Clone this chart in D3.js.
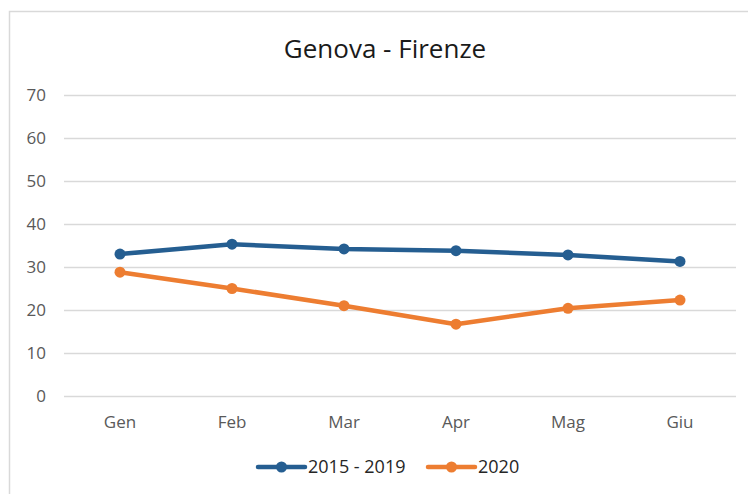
<!DOCTYPE html>
<html>
<head>
<meta charset="utf-8">
<script src="https://cdn.jsdelivr.net/npm/d3@7"></script>
<style>
body { margin: 0; background: #fff; }
svg { font-family: "Open Sans", "Liberation Sans", Arial, sans-serif; }
.grid line { stroke: #d9d9d9; stroke-width: 1.3; }
.grid .domain { display: none; }
.tick text { fill: #595959; font-size: 17px; font-family: "Open Sans", "Liberation Sans", Arial, sans-serif; }
</style>
</head>
<body>
<svg class="chart" width="748" height="494"></svg>
<script>
var months = ["Gen", "Feb", "Mar", "Apr", "Mag", "Giu"];
var avg2015_2019 = [33.0, 35.3, 34.2, 33.8, 32.8, 31.3];
var year2020 = [28.8, 25.0, 21.0, 16.7, 20.4, 22.3];
var yTicks = [0, 10, 20, 30, 40, 50, 60, 70];

var series = [
    {name: "2015 - 2019", values: avg2015_2019, color: "#255e91"},
    {name: "2020", values: year2020, color: "#ed7d31"}
];

var margin = {top: 95, right: 12, bottom: 98, left: 64};
var width = 748 - margin.left - margin.right,   // 672
    height = 494 - margin.top - margin.bottom;  // 301

var svg = d3.select(".chart");

// outer frame
svg.append("rect")
    .attr("x", 9.5).attr("y", 11.5)
    .attr("width", 760).attr("height", 500)
    .attr("fill", "none")
    .attr("stroke", "#d9d9d9")
    .attr("stroke-width", 1.5);

svg.append("text")
    .attr("x", 385).attr("y", 58)
    .attr("text-anchor", "middle")
    .attr("font-size", "26px")
    .attr("fill", "#1a1a1a")
    .text("Genova - Firenze");

var g = svg.append("g")
    .attr("transform", "translate(" + margin.left + "," + margin.top + ")");

var x = d3.scaleBand()
    .domain(months)
    .range([0, width]);

var y = d3.scaleLinear()
    .domain([0, 70])
    .range([height, 0]);

// y gridlines + labels
g.append("g")
    .attr("class", "grid")
    .call(d3.axisLeft(y).tickValues(yTicks).tickSize(-width).tickPadding(18))
    .call(function(s){ s.selectAll(".tick line").attr("x1", 0); });

// x labels
g.append("g")
    .attr("class", "grid")
    .attr("transform", "translate(0," + height + ")")
    .call(d3.axisBottom(x).tickSize(0).tickPadding(20))
    .call(function(s){ s.select(".domain").remove(); });

var line = d3.line()
    .x(function(d, i){ return x(months[i]) + x.bandwidth() / 2; })
    .y(function(d){ return y(d); });

series.forEach(function(s){
    g.append("path")
        .datum(s.values)
        .attr("fill", "none")
        .attr("stroke", s.color)
        .attr("stroke-width", 4.5)
        .attr("stroke-linejoin", "round")
        .attr("d", line);
    g.selectAll(null)
        .data(s.values)
        .enter().append("circle")
        .attr("cx", function(d, i){ return x(months[i]) + x.bandwidth() / 2; })
        .attr("cy", function(d){ return y(d); })
        .attr("r", 5.5)
        .attr("fill", s.color);
});

// legend
var legendX = [258, 428];
var legend = svg.selectAll(".legend")
    .data(series)
    .enter().append("g")
    .attr("class", "legend")
    .attr("transform", function(d, i){ return "translate(" + legendX[i] + ",467)"; });

legend.append("line")
    .attr("x1", 0).attr("x2", 47)
    .attr("stroke", function(d){ return d.color; })
    .attr("stroke-width", 4.5)
    .attr("stroke-linecap", "round");
legend.append("circle")
    .attr("cx", 23.5).attr("r", 5.5)
    .attr("fill", function(d){ return d.color; });
legend.append("text")
    .attr("x", 50).attr("dy", "0.35em")
    .attr("font-size", "18px")
    .attr("fill", "#262626")
    .text(function(d){ return d.name; });
</script>
</body>
</html>
